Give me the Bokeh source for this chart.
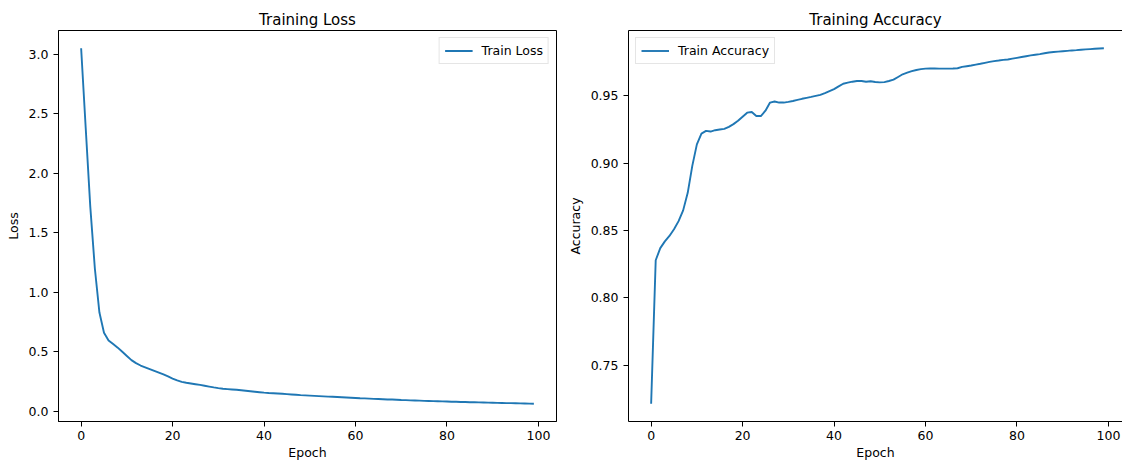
from bokeh.plotting import figure
from bokeh.models import Range1d, FixedTicker, PrintfTickFormatter, LinearAxis
from bokeh.layouts import row
from bokeh.embed import file_html
from bokeh.resources import INLINE

epochs = list(range(100))

train_loss = [
    3.05, 2.38, 1.72, 1.20, 0.83, 0.66, 0.595, 0.565, 0.535, 0.50,
    0.465, 0.43, 0.405, 0.385, 0.37, 0.355, 0.34, 0.325, 0.31, 0.293,
    0.275, 0.26, 0.248, 0.240, 0.234, 0.228, 0.222, 0.215, 0.208, 0.201,
    0.195, 0.190, 0.187, 0.184, 0.181, 0.177, 0.173, 0.169, 0.165, 0.161,
    0.157, 0.154, 0.152, 0.150, 0.148, 0.145, 0.142, 0.139, 0.136, 0.134,
    0.132, 0.130, 0.128, 0.126, 0.124, 0.122, 0.120, 0.118, 0.116, 0.114,
    0.112, 0.110, 0.109, 0.107, 0.105, 0.104, 0.102, 0.100, 0.099, 0.097,
    0.095, 0.094, 0.092, 0.091, 0.090, 0.088, 0.087, 0.086, 0.085, 0.084,
    0.083, 0.081, 0.080, 0.079, 0.078, 0.077, 0.076, 0.075, 0.074, 0.073,
    0.072, 0.071, 0.070, 0.069, 0.069, 0.068, 0.067, 0.066, 0.065, 0.064,
]

train_acc = [
    0.7215, 0.828, 0.837, 0.842, 0.846, 0.851, 0.857, 0.865, 0.878, 0.898,
    0.914, 0.922, 0.924, 0.9235, 0.9245, 0.925, 0.9255, 0.927, 0.929, 0.9315,
    0.9345, 0.9375, 0.938, 0.935, 0.935, 0.939, 0.945, 0.9458, 0.945, 0.945,
    0.9455, 0.9462, 0.947, 0.9478, 0.9485, 0.9492, 0.950, 0.9507, 0.952, 0.9535,
    0.955, 0.957, 0.959, 0.9598, 0.9605, 0.961, 0.961, 0.9605, 0.9608, 0.9603,
    0.960, 0.9602, 0.961, 0.962, 0.964, 0.966, 0.9672, 0.9683, 0.9692, 0.9698,
    0.9702, 0.9703, 0.9703, 0.9702, 0.9702, 0.9702, 0.9703, 0.9705, 0.9715, 0.972,
    0.9725, 0.9732, 0.9738, 0.9745, 0.9752, 0.9758, 0.9762, 0.9767, 0.977, 0.9776,
    0.9782, 0.9788, 0.9794, 0.980, 0.9805, 0.981, 0.9816, 0.9822, 0.9825, 0.9828,
    0.9831, 0.9834, 0.9837, 0.9839, 0.9842, 0.9845, 0.9847, 0.9849, 0.9851, 0.9853,
]

x_ticks = [0, 20, 40, 60, 80, 100]
loss_ticks = [0.0, 0.5, 1.0, 1.5, 2.0, 2.5, 3.0]
acc_ticks = [0.75, 0.80, 0.85, 0.90, 0.95]

FONT = "DejaVu Sans"
FS = "12.5px"
LINE = "#1f77b4"


def padded(vals, frac=0.05):
    lo, hi = min(vals), max(vals)
    m = (hi - lo) * frac
    return lo - m, hi + m


def style(p, title, ylabel, yticks, yfmt):
    p.title.text = title
    p.title.text_font = FONT
    p.title.text_font_size = "15px"
    p.title.text_font_style = "normal"
    p.title.align = "center"
    p.title.standoff = 4
    p.title.text_color = "black"
    p.xgrid.visible = False
    p.ygrid.visible = False
    p.background_fill_color = "white"
    p.border_fill_color = "white"
    p.xaxis.ticker = FixedTicker(ticks=x_ticks)
    p.yaxis.ticker = FixedTicker(ticks=yticks)
    p.yaxis.formatter = PrintfTickFormatter(format=yfmt)
    p.xaxis.axis_label = "Epoch"
    p.yaxis.axis_label = ylabel
    for ax in list(p.xaxis) + list(p.yaxis):
        ax.axis_label_text_font = FONT
        ax.axis_label_text_font_size = FS
        ax.axis_label_text_font_style = "normal"
        ax.axis_label_text_color = "black"
        ax.major_label_text_font = FONT
        ax.major_label_text_font_size = FS
        ax.major_label_text_color = "black"
        ax.axis_line_color = "black"
        ax.major_tick_line_color = "black"
        ax.major_tick_out = 5
        ax.major_tick_in = 0
        ax.minor_tick_line_color = None
    for ax in p.xaxis:
        ax.major_label_standoff = 4
        ax.axis_label_standoff = 2
    for ax in p.yaxis:
        ax.major_label_standoff = 5
        ax.axis_label_standoff = 5


def style_legend(p, loc):
    lg = p.legend[0]
    lg.location = loc
    lg.label_text_font = FONT
    lg.label_text_font_size = FS
    lg.label_text_color = "black"
    lg.border_line_color = "#cccccc"
    lg.border_line_width = 1
    lg.background_fill_color = "white"
    lg.background_fill_alpha = 0.8
    lg.padding = 5
    lg.spacing = 0
    lg.margin = 7
    lg.glyph_width = 28
    lg.glyph_height = 15
    lg.label_height = 15
    lg.label_standoff = 9


x0, x1 = padded(epochs)
ly0, ly1 = padded(train_loss)
ay0, ay1 = padded(train_acc)

p1 = figure(width=561, height=466, output_backend="svg", toolbar_location=None,
            x_range=Range1d(x0, x1), y_range=Range1d(ly0, ly1),
            min_border_left=58, min_border_right=5, min_border_top=30, min_border_bottom=45)
p1.line(epochs, train_loss, line_color=LINE, line_width=1.9, legend_label="Train Loss")
style(p1, "Training Loss", "Loss", loss_ticks, "%.1f")
p1.outline_line_color = "black"
p1.outline_line_width = 1
p1.outline_line_alpha = 1.0
style_legend(p1, "top_right")

# right panel: same x scale, clipped at the page edge like the reference
x1_right = x0 + (x1 - x0) * 494.0 / 498.0
p2 = figure(width=561, height=466, output_backend="svg", toolbar_location=None,
            x_range=Range1d(x0, x1_right), y_range=Range1d(ay0, ay1),
            min_border_left=67, min_border_right=0, min_border_top=30, min_border_bottom=45)
p2.line(epochs, train_acc, line_color=LINE, line_width=1.9, legend_label="Train Accuracy")
style(p2, "Training Accuracy", "Accuracy", acc_ticks, "%.2f")
p2.outline_line_color = None
top_spine = LinearAxis(ticker=FixedTicker(ticks=[]), major_tick_out=0, major_tick_in=0,
                       minor_tick_out=0, minor_tick_in=0, major_label_standoff=0,
                       axis_line_color="black", major_label_text_font_size="0px")
p2.add_layout(top_spine, "above")
style_legend(p2, "top_left")

layout = row(p1, p2)
open("out.html", "w").write(file_html(layout, INLINE))
